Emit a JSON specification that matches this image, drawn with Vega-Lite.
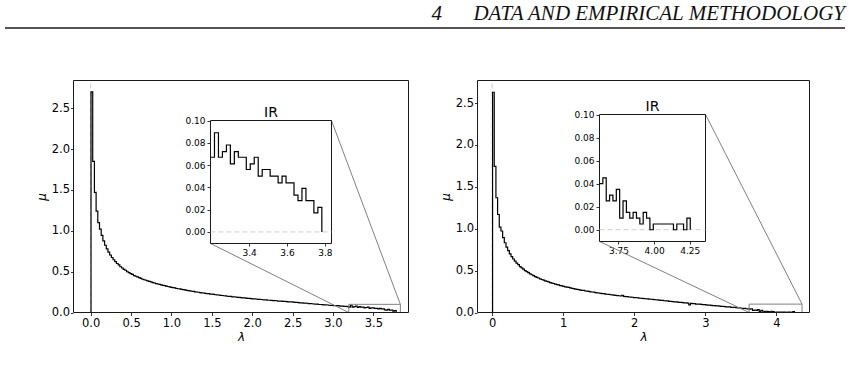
{
  "$schema": "https://vega.github.io/schema/vega-lite/v6.json",
  "width": 840,
  "height": 340,
  "autosize": {"type": "none"},
  "padding": {"left": 5, "top": 28, "right": 4, "bottom": 0},
  "background": "white",
  "config": {
    "view": {"stroke": null},
    "font": "DejaVu Sans",
    "axis": {
      "grid": false,
      "domain": false,
      "ticks": true,
      "tickColor": "black",
      "tickSize": 3.5,
      "tickWidth": 0.8,
      "labelColor": "black",
      "labelFont": "DejaVu Sans",
      "labelFontSize": 11.5,
      "labelPadding": 2,
      "labelFlush": false,
      "labelOverlap": false,
      "titleFont": "DejaVu Sans",
      "titleFontSize": 12,
      "titleFontStyle": "italic",
      "titleFontWeight": "normal",
      "titleColor": "black",
      "titlePadding": 3
    }
  },
  "datasets": {
    "left": [
      {"lambda": 0.004, "mu": 0},
      {"lambda": 0.004, "mu": 2.70},
      {"lambda": 0.025, "mu": 1.85},
      {"lambda": 0.046, "mu": 1.47},
      {"lambda": 0.067, "mu": 1.24},
      {"lambda": 0.088, "mu": 1.10},
      {"lambda": 0.109, "mu": 1.02},
      {"lambda": 0.130, "mu": 0.944},
      {"lambda": 0.151, "mu": 0.878},
      {"lambda": 0.172, "mu": 0.823},
      {"lambda": 0.193, "mu": 0.778},
      {"lambda": 0.214, "mu": 0.738},
      {"lambda": 0.235, "mu": 0.704},
      {"lambda": 0.256, "mu": 0.673},
      {"lambda": 0.277, "mu": 0.646},
      {"lambda": 0.298, "mu": 0.622},
      {"lambda": 0.319, "mu": 0.600},
      {"lambda": 0.340, "mu": 0.583},
      {"lambda": 0.361, "mu": 0.560},
      {"lambda": 0.382, "mu": 0.545},
      {"lambda": 0.403, "mu": 0.529},
      {"lambda": 0.424, "mu": 0.517},
      {"lambda": 0.445, "mu": 0.499},
      {"lambda": 0.466, "mu": 0.488},
      {"lambda": 0.487, "mu": 0.476},
      {"lambda": 0.508, "mu": 0.467},
      {"lambda": 0.529, "mu": 0.452},
      {"lambda": 0.550, "mu": 0.444},
      {"lambda": 0.571, "mu": 0.435},
      {"lambda": 0.592, "mu": 0.426},
      {"lambda": 0.613, "mu": 0.418},
      {"lambda": 0.634, "mu": 0.407},
      {"lambda": 0.655, "mu": 0.401},
      {"lambda": 0.676, "mu": 0.395},
      {"lambda": 0.697, "mu": 0.386},
      {"lambda": 0.718, "mu": 0.380},
      {"lambda": 0.739, "mu": 0.374},
      {"lambda": 0.760, "mu": 0.366},
      {"lambda": 0.781, "mu": 0.361},
      {"lambda": 0.802, "mu": 0.353},
      {"lambda": 0.823, "mu": 0.349},
      {"lambda": 0.844, "mu": 0.344},
      {"lambda": 0.865, "mu": 0.337},
      {"lambda": 0.886, "mu": 0.333},
      {"lambda": 0.907, "mu": 0.329},
      {"lambda": 0.928, "mu": 0.322},
      {"lambda": 0.949, "mu": 0.318},
      {"lambda": 0.970, "mu": 0.314},
      {"lambda": 0.991, "mu": 0.308},
      {"lambda": 1.012, "mu": 0.304},
      {"lambda": 1.033, "mu": 0.301},
      {"lambda": 1.054, "mu": 0.294},
      {"lambda": 1.075, "mu": 0.291},
      {"lambda": 1.096, "mu": 0.288},
      {"lambda": 1.117, "mu": 0.282},
      {"lambda": 1.138, "mu": 0.279},
      {"lambda": 1.159, "mu": 0.276},
      {"lambda": 1.180, "mu": 0.270},
      {"lambda": 1.201, "mu": 0.269},
      {"lambda": 1.222, "mu": 0.264},
      {"lambda": 1.243, "mu": 0.260},
      {"lambda": 1.264, "mu": 0.258},
      {"lambda": 1.285, "mu": 0.253},
      {"lambda": 1.306, "mu": 0.251},
      {"lambda": 1.327, "mu": 0.248},
      {"lambda": 1.348, "mu": 0.243},
      {"lambda": 1.369, "mu": 0.241},
      {"lambda": 1.390, "mu": 0.239},
      {"lambda": 1.411, "mu": 0.234},
      {"lambda": 1.432, "mu": 0.232},
      {"lambda": 1.453, "mu": 0.230},
      {"lambda": 1.474, "mu": 0.225},
      {"lambda": 1.495, "mu": 0.224},
      {"lambda": 1.516, "mu": 0.222},
      {"lambda": 1.537, "mu": 0.217},
      {"lambda": 1.558, "mu": 0.215},
      {"lambda": 1.579, "mu": 0.214},
      {"lambda": 1.600, "mu": 0.209},
      {"lambda": 1.621, "mu": 0.208},
      {"lambda": 1.642, "mu": 0.205},
      {"lambda": 1.663, "mu": 0.204},
      {"lambda": 1.684, "mu": 0.199},
      {"lambda": 1.705, "mu": 0.198},
      {"lambda": 1.726, "mu": 0.197},
      {"lambda": 1.747, "mu": 0.192},
      {"lambda": 1.768, "mu": 0.191},
      {"lambda": 1.789, "mu": 0.190},
      {"lambda": 1.810, "mu": 0.185},
      {"lambda": 1.831, "mu": 0.184},
      {"lambda": 1.852, "mu": 0.183},
      {"lambda": 1.873, "mu": 0.179},
      {"lambda": 1.894, "mu": 0.178},
      {"lambda": 1.915, "mu": 0.177},
      {"lambda": 1.936, "mu": 0.173},
      {"lambda": 1.957, "mu": 0.172},
      {"lambda": 1.978, "mu": 0.171},
      {"lambda": 1.999, "mu": 0.166},
      {"lambda": 2.020, "mu": 0.166},
      {"lambda": 2.041, "mu": 0.165},
      {"lambda": 2.062, "mu": 0.161},
      {"lambda": 2.083, "mu": 0.160},
      {"lambda": 2.104, "mu": 0.159},
      {"lambda": 2.125, "mu": 0.156},
      {"lambda": 2.146, "mu": 0.155},
      {"lambda": 2.167, "mu": 0.154},
      {"lambda": 2.188, "mu": 0.150},
      {"lambda": 2.209, "mu": 0.150},
      {"lambda": 2.230, "mu": 0.149},
      {"lambda": 2.251, "mu": 0.145},
      {"lambda": 2.272, "mu": 0.145},
      {"lambda": 2.293, "mu": 0.144},
      {"lambda": 2.314, "mu": 0.140},
      {"lambda": 2.335, "mu": 0.140},
      {"lambda": 2.356, "mu": 0.139},
      {"lambda": 2.377, "mu": 0.135},
      {"lambda": 2.398, "mu": 0.135},
      {"lambda": 2.419, "mu": 0.134},
      {"lambda": 2.440, "mu": 0.131},
      {"lambda": 2.461, "mu": 0.130},
      {"lambda": 2.482, "mu": 0.129},
      {"lambda": 2.503, "mu": 0.126},
      {"lambda": 2.524, "mu": 0.125},
      {"lambda": 2.545, "mu": 0.124},
      {"lambda": 2.566, "mu": 0.120},
      {"lambda": 2.587, "mu": 0.119},
      {"lambda": 2.608, "mu": 0.118},
      {"lambda": 2.629, "mu": 0.114},
      {"lambda": 2.650, "mu": 0.114},
      {"lambda": 2.671, "mu": 0.113},
      {"lambda": 2.692, "mu": 0.109},
      {"lambda": 2.713, "mu": 0.108},
      {"lambda": 2.734, "mu": 0.107},
      {"lambda": 2.755, "mu": 0.104},
      {"lambda": 2.776, "mu": 0.103},
      {"lambda": 2.797, "mu": 0.102},
      {"lambda": 2.818, "mu": 0.098},
      {"lambda": 2.839, "mu": 0.098},
      {"lambda": 2.860, "mu": 0.097},
      {"lambda": 2.881, "mu": 0.093},
      {"lambda": 2.902, "mu": 0.093},
      {"lambda": 2.923, "mu": 0.092},
      {"lambda": 2.944, "mu": 0.089},
      {"lambda": 2.965, "mu": 0.088},
      {"lambda": 2.986, "mu": 0.088},
      {"lambda": 3.007, "mu": 0.084},
      {"lambda": 3.028, "mu": 0.084},
      {"lambda": 3.049, "mu": 0.083},
      {"lambda": 3.070, "mu": 0.080},
      {"lambda": 3.091, "mu": 0.079},
      {"lambda": 3.112, "mu": 0.079},
      {"lambda": 3.133, "mu": 0.075},
      {"lambda": 3.154, "mu": 0.075},
      {"lambda": 3.175, "mu": 0.073},
      {"lambda": 3.196, "mu": 0.067},
      {"lambda": 3.217, "mu": 0.089},
      {"lambda": 3.238, "mu": 0.067},
      {"lambda": 3.259, "mu": 0.072},
      {"lambda": 3.280, "mu": 0.078},
      {"lambda": 3.301, "mu": 0.061},
      {"lambda": 3.322, "mu": 0.072},
      {"lambda": 3.343, "mu": 0.067},
      {"lambda": 3.364, "mu": 0.067},
      {"lambda": 3.385, "mu": 0.056},
      {"lambda": 3.406, "mu": 0.061},
      {"lambda": 3.427, "mu": 0.067},
      {"lambda": 3.448, "mu": 0.050},
      {"lambda": 3.469, "mu": 0.056},
      {"lambda": 3.490, "mu": 0.056},
      {"lambda": 3.511, "mu": 0.050},
      {"lambda": 3.532, "mu": 0.050},
      {"lambda": 3.553, "mu": 0.044},
      {"lambda": 3.574, "mu": 0.050},
      {"lambda": 3.595, "mu": 0.044},
      {"lambda": 3.616, "mu": 0.044},
      {"lambda": 3.637, "mu": 0.033},
      {"lambda": 3.658, "mu": 0.028},
      {"lambda": 3.679, "mu": 0.039},
      {"lambda": 3.700, "mu": 0.028},
      {"lambda": 3.721, "mu": 0.028},
      {"lambda": 3.742, "mu": 0.017},
      {"lambda": 3.763, "mu": 0.022},
      {"lambda": 3.784, "mu": 0.022},
      {"lambda": 3.784, "mu": 0}
    ],
    "right": [
      {"lambda": 0.006, "mu": 0},
      {"lambda": 0.006, "mu": 2.63},
      {"lambda": 0.0296, "mu": 1.745},
      {"lambda": 0.0532, "mu": 1.37},
      {"lambda": 0.0768, "mu": 1.17},
      {"lambda": 0.1004, "mu": 1.02},
      {"lambda": 0.124, "mu": 0.973},
      {"lambda": 0.1476, "mu": 0.895},
      {"lambda": 0.1712, "mu": 0.833},
      {"lambda": 0.1948, "mu": 0.781},
      {"lambda": 0.2184, "mu": 0.738},
      {"lambda": 0.242, "mu": 0.700},
      {"lambda": 0.2656, "mu": 0.668},
      {"lambda": 0.2892, "mu": 0.639},
      {"lambda": 0.3128, "mu": 0.613},
      {"lambda": 0.3364, "mu": 0.590},
      {"lambda": 0.36, "mu": 0.571},
      {"lambda": 0.3836, "mu": 0.548},
      {"lambda": 0.4072, "mu": 0.532},
      {"lambda": 0.4308, "mu": 0.518},
      {"lambda": 0.4544, "mu": 0.500},
      {"lambda": 0.478, "mu": 0.487},
      {"lambda": 0.5016, "mu": 0.475},
      {"lambda": 0.5252, "mu": 0.461},
      {"lambda": 0.5488, "mu": 0.451},
      {"lambda": 0.5724, "mu": 0.441},
      {"lambda": 0.596, "mu": 0.429},
      {"lambda": 0.6196, "mu": 0.420},
      {"lambda": 0.6432, "mu": 0.412},
      {"lambda": 0.6668, "mu": 0.401},
      {"lambda": 0.6904, "mu": 0.394},
      {"lambda": 0.714, "mu": 0.387},
      {"lambda": 0.7376, "mu": 0.377},
      {"lambda": 0.7612, "mu": 0.371},
      {"lambda": 0.7848, "mu": 0.365},
      {"lambda": 0.8084, "mu": 0.357},
      {"lambda": 0.832, "mu": 0.351},
      {"lambda": 0.8556, "mu": 0.346},
      {"lambda": 0.8792, "mu": 0.338},
      {"lambda": 0.9028, "mu": 0.333},
      {"lambda": 0.9264, "mu": 0.329},
      {"lambda": 0.95, "mu": 0.321},
      {"lambda": 0.9736, "mu": 0.317},
      {"lambda": 0.9972, "mu": 0.313},
      {"lambda": 1.0208, "mu": 0.306},
      {"lambda": 1.0444, "mu": 0.303},
      {"lambda": 1.068, "mu": 0.299},
      {"lambda": 1.0916, "mu": 0.293},
      {"lambda": 1.1152, "mu": 0.289},
      {"lambda": 1.1388, "mu": 0.286},
      {"lambda": 1.1624, "mu": 0.280},
      {"lambda": 1.186, "mu": 0.277},
      {"lambda": 1.2096, "mu": 0.274},
      {"lambda": 1.2332, "mu": 0.268},
      {"lambda": 1.2568, "mu": 0.265},
      {"lambda": 1.2804, "mu": 0.263},
      {"lambda": 1.304, "mu": 0.257},
      {"lambda": 1.3276, "mu": 0.255},
      {"lambda": 1.3512, "mu": 0.252},
      {"lambda": 1.3748, "mu": 0.247},
      {"lambda": 1.3984, "mu": 0.245},
      {"lambda": 1.422, "mu": 0.243},
      {"lambda": 1.4456, "mu": 0.237},
      {"lambda": 1.4692, "mu": 0.235},
      {"lambda": 1.4928, "mu": 0.233},
      {"lambda": 1.5164, "mu": 0.228},
      {"lambda": 1.54, "mu": 0.226},
      {"lambda": 1.5636, "mu": 0.225},
      {"lambda": 1.5872, "mu": 0.220},
      {"lambda": 1.6108, "mu": 0.218},
      {"lambda": 1.6344, "mu": 0.216},
      {"lambda": 1.658, "mu": 0.212},
      {"lambda": 1.6816, "mu": 0.210},
      {"lambda": 1.7052, "mu": 0.208},
      {"lambda": 1.7288, "mu": 0.204},
      {"lambda": 1.7524, "mu": 0.202},
      {"lambda": 1.776, "mu": 0.200},
      {"lambda": 1.7996, "mu": 0.197},
      {"lambda": 1.8232, "mu": 0.206},
      {"lambda": 1.8468, "mu": 0.193},
      {"lambda": 1.8704, "mu": 0.190},
      {"lambda": 1.894, "mu": 0.189},
      {"lambda": 1.9176, "mu": 0.185},
      {"lambda": 1.9412, "mu": 0.183},
      {"lambda": 1.9648, "mu": 0.182},
      {"lambda": 1.9884, "mu": 0.178},
      {"lambda": 2.012, "mu": 0.177},
      {"lambda": 2.0356, "mu": 0.176},
      {"lambda": 2.0592, "mu": 0.171},
      {"lambda": 2.0828, "mu": 0.170},
      {"lambda": 2.1064, "mu": 0.169},
      {"lambda": 2.13, "mu": 0.165},
      {"lambda": 2.1536, "mu": 0.164},
      {"lambda": 2.1772, "mu": 0.163},
      {"lambda": 2.2008, "mu": 0.159},
      {"lambda": 2.2244, "mu": 0.158},
      {"lambda": 2.248, "mu": 0.157},
      {"lambda": 2.2716, "mu": 0.153},
      {"lambda": 2.2952, "mu": 0.152},
      {"lambda": 2.3188, "mu": 0.151},
      {"lambda": 2.3424, "mu": 0.147},
      {"lambda": 2.366, "mu": 0.145},
      {"lambda": 2.3896, "mu": 0.144},
      {"lambda": 2.4132, "mu": 0.140},
      {"lambda": 2.4368, "mu": 0.139},
      {"lambda": 2.4604, "mu": 0.138},
      {"lambda": 2.484, "mu": 0.133},
      {"lambda": 2.5076, "mu": 0.132},
      {"lambda": 2.5312, "mu": 0.131},
      {"lambda": 2.5548, "mu": 0.127},
      {"lambda": 2.5784, "mu": 0.126},
      {"lambda": 2.602, "mu": 0.125},
      {"lambda": 2.6256, "mu": 0.121},
      {"lambda": 2.6492, "mu": 0.120},
      {"lambda": 2.6728, "mu": 0.119},
      {"lambda": 2.6964, "mu": 0.115},
      {"lambda": 2.72, "mu": 0.114},
      {"lambda": 2.7436, "mu": 0.113},
      {"lambda": 2.7672, "mu": 0.090},
      {"lambda": 2.7908, "mu": 0.108},
      {"lambda": 2.8144, "mu": 0.106},
      {"lambda": 2.838, "mu": 0.105},
      {"lambda": 2.8616, "mu": 0.101},
      {"lambda": 2.8852, "mu": 0.100},
      {"lambda": 2.9088, "mu": 0.099},
      {"lambda": 2.9324, "mu": 0.096},
      {"lambda": 2.956, "mu": 0.095},
      {"lambda": 2.9796, "mu": 0.094},
      {"lambda": 3.0032, "mu": 0.090},
      {"lambda": 3.0268, "mu": 0.089},
      {"lambda": 3.0504, "mu": 0.088},
      {"lambda": 3.074, "mu": 0.084},
      {"lambda": 3.0976, "mu": 0.083},
      {"lambda": 3.1212, "mu": 0.082},
      {"lambda": 3.1448, "mu": 0.079},
      {"lambda": 3.1684, "mu": 0.078},
      {"lambda": 3.192, "mu": 0.077},
      {"lambda": 3.2156, "mu": 0.073},
      {"lambda": 3.2392, "mu": 0.072},
      {"lambda": 3.2628, "mu": 0.071},
      {"lambda": 3.2864, "mu": 0.068},
      {"lambda": 3.31, "mu": 0.067},
      {"lambda": 3.3336, "mu": 0.066},
      {"lambda": 3.3572, "mu": 0.062},
      {"lambda": 3.3808, "mu": 0.062},
      {"lambda": 3.4044, "mu": 0.061},
      {"lambda": 3.428, "mu": 0.057},
      {"lambda": 3.4516, "mu": 0.056},
      {"lambda": 3.4752, "mu": 0.055},
      {"lambda": 3.4988, "mu": 0.051},
      {"lambda": 3.5224, "mu": 0.050},
      {"lambda": 3.546, "mu": 0.049},
      {"lambda": 3.5696, "mu": 0.045},
      {"lambda": 3.5932, "mu": 0.044},
      {"lambda": 3.6168, "mu": 0.040},
      {"lambda": 3.6404, "mu": 0.045},
      {"lambda": 3.664, "mu": 0.025},
      {"lambda": 3.6876, "mu": 0.030},
      {"lambda": 3.7112, "mu": 0.025},
      {"lambda": 3.7348, "mu": 0.035},
      {"lambda": 3.7584, "mu": 0.010},
      {"lambda": 3.782, "mu": 0.025},
      {"lambda": 3.8056, "mu": 0.015},
      {"lambda": 3.8292, "mu": 0.010},
      {"lambda": 3.8528, "mu": 0.015},
      {"lambda": 3.8764, "mu": 0.010},
      {"lambda": 3.9, "mu": 0.005},
      {"lambda": 3.9236, "mu": 0.015},
      {"lambda": 3.9472, "mu": 0.010},
      {"lambda": 3.9708, "mu": 0.000},
      {"lambda": 3.9944, "mu": 0.005},
      {"lambda": 4.018, "mu": 0.005},
      {"lambda": 4.0416, "mu": 0.005},
      {"lambda": 4.0652, "mu": 0.005},
      {"lambda": 4.0888, "mu": 0.005},
      {"lambda": 4.1124, "mu": 0.005},
      {"lambda": 4.136, "mu": 0.000},
      {"lambda": 4.1596, "mu": 0.005},
      {"lambda": 4.1832, "mu": 0.005},
      {"lambda": 4.2068, "mu": 0.000},
      {"lambda": 4.2304, "mu": 0.010},
      {"lambda": 4.254, "mu": 0.010},
      {"lambda": 4.254, "mu": 0}
    ]
  },
  "layer": [
    {
      "data": {"values": [{"heading": "4\u00a0\u00a0\u00a0\u00a0\u00a0\u00a0DATA AND EMPIRICAL METHODOLOGY"}]},
      "layer": [
        {
          "mark": {"type": "rule", "color": "#1a1a1a", "strokeWidth": 1.5},
          "encoding": {"y": {"value": 0}}
        },
        {
          "mark": {"type": "text", "align": "right", "baseline": "alphabetic", "dy": -8, "font": "Liberation Serif", "fontStyle": "italic", "fontSize": 21, "color": "#111111"},
          "encoding": {"x": {"value": "width"}, "y": {"value": 0}, "text": {"field": "heading"}}
        }
      ]
    },
    {
      "encoding": {
        "x": {
          "field": "lambda", "type": "quantitative",
          "scale": {"domain": [-0.213, 3.936], "range": [68.5, 403.5], "nice": false, "zero": false},
          "axis": {"orient": "bottom", "offset": -56, "values": [0, 0.5, 1, 1.5, 2, 2.5, 3, 3.5], "format": ".1f", "title": "λ", "labelPadding": 1.5}
        },
        "y": {
          "field": "mu", "type": "quantitative",
          "scale": {"domain": [0, 2.84], "range": [284.5, 52.5], "nice": false, "zero": false},
          "axis": {"orient": "left", "offset": -68, "values": [0, 0.5, 1, 1.5, 2, 2.5], "format": ".1f", "title": "μ", "tickSize": 2.5, "labelPadding": 1}
        }
      },
      "layer": [
        {
          "data": {"values": [{"lambda": 0, "mu": 0, "mu2": 2.84}]},
          "mark": {"type": "rule", "color": "#cccccc", "strokeWidth": 1, "strokeDash": [5, 3]},
          "encoding": {"y2": {"field": "mu2"}}
        },
        {
          "data": {"name": "left"},
          "mark": {"type": "line", "interpolate": "step-after", "color": "black", "strokeWidth": 1.2}
        },
        {
          "data": {"values": [{"lambda": 3.196, "lambda2": 3.835, "mu": 0, "mu2": 0.1}]},
          "mark": {"type": "rect", "filled": false, "color": "#808080", "strokeWidth": 1},
          "encoding": {"x2": {"field": "lambda2"}, "y2": {"field": "mu2"}}
        },
        {
          "data": {"values": [
            {"lambda": 2.982, "mu": 2.35, "lambda2": 3.835, "mu2": 0.1},
            {"lambda": 1.484, "mu": 0.845, "lambda2": 3.196, "mu2": 0}
          ]},
          "mark": {"type": "rule", "color": "#808080", "strokeWidth": 1},
          "encoding": {"x2": {"field": "lambda2"}, "y2": {"field": "mu2"}}
        },
        {
          "data": {"values": [{"lambda": -0.213, "lambda2": 3.936, "mu": 0, "mu2": 2.84}]},
          "mark": {"type": "rect", "filled": false, "color": "#1a1a1a", "strokeWidth": 1},
          "encoding": {"x2": {"field": "lambda2"}, "y2": {"field": "mu2"}}
        }
      ]
    },
    {
      "encoding": {
        "x": {
          "field": "lambda", "type": "quantitative",
          "scale": {"domain": [3.196, 3.835], "range": [205.5, 326.5], "nice": false, "zero": false},
          "axis": {"orient": "bottom", "offset": -125, "values": [3.4, 3.6, 3.8], "format": ".1f", "title": null, "labelFontSize": 9, "tickSize": 3}
        },
        "y": {
          "field": "mu", "type": "quantitative",
          "scale": {"domain": [-0.0104, 0.1], "range": [215.5, 92.5], "nice": false, "zero": false},
          "axis": {"orient": "left", "offset": -205, "values": [0, 0.02, 0.04, 0.06, 0.08, 0.1], "format": ".2f", "title": null, "labelFontSize": 9, "tickSize": 3}
        }
      },
      "layer": [
        {
          "data": {"values": [{"lambda": 3.196, "lambda2": 3.835, "mu": -0.0104, "mu2": 0.1}]},
          "mark": {"type": "rect", "fill": "white", "stroke": "#1a1a1a", "strokeWidth": 1},
          "encoding": {"x2": {"field": "lambda2"}, "y2": {"field": "mu2"}}
        },
        {
          "data": {"values": [{"lambda": 3.196, "lambda2": 3.835, "mu": 0}]},
          "mark": {"type": "rule", "color": "#cccccc", "strokeWidth": 1, "strokeDash": [5, 3]},
          "encoding": {"x2": {"field": "lambda2"}}
        },
        {
          "data": {"name": "left"},
          "transform": [{"filter": {"field": "lambda", "gte": 3.196}}],
          "mark": {"type": "line", "interpolate": "step-after", "color": "black", "strokeWidth": 1.2}
        },
        {
          "data": {"values": [{"lambda": 3.5155, "mu": 0.1, "panel": "IR"}]},
          "mark": {"type": "text", "baseline": "alphabetic", "align": "center", "dy": -4, "fontSize": 14, "font": "DejaVu Sans", "color": "black"},
          "encoding": {"text": {"field": "panel"}}
        }
      ]
    },
    {
      "encoding": {
        "x": {
          "field": "lambda", "type": "quantitative",
          "scale": {"domain": [-0.206, 4.466], "range": [472.5, 804.5], "nice": false, "zero": false},
          "axis": {"orient": "bottom", "offset": -56, "values": [0, 1, 2, 3, 4], "format": "d", "title": "λ", "labelPadding": 1.5}
        },
        "y": {
          "field": "mu", "type": "quantitative",
          "scale": {"domain": [0, 2.77], "range": [284.5, 52.5], "nice": false, "zero": false},
          "axis": {"orient": "left", "offset": -472, "values": [0, 0.5, 1, 1.5, 2, 2.5], "format": ".1f", "title": "μ", "tickSize": 2.5, "labelPadding": 1}
        }
      },
      "layer": [
        {
          "data": {"values": [{"lambda": 0, "mu": 0, "mu2": 2.77}]},
          "mark": {"type": "rule", "color": "#cccccc", "strokeWidth": 1, "strokeDash": [5, 3]},
          "encoding": {"y2": {"field": "mu2"}}
        },
        {
          "data": {"name": "right"},
          "mark": {"type": "line", "interpolate": "step-after", "color": "black", "strokeWidth": 1.2}
        },
        {
          "data": {"values": [{"lambda": 3.6168, "lambda2": 4.361, "mu": 0, "mu2": 0.1}]},
          "mark": {"type": "rect", "filled": false, "color": "#808080", "strokeWidth": 1},
          "encoding": {"x2": {"field": "lambda2"}, "y2": {"field": "mu2"}}
        },
        {
          "data": {"values": [
            {"lambda": 3.003, "mu": 2.364, "lambda2": 4.361, "mu2": 0.1},
            {"lambda": 1.511, "mu": 0.848, "lambda2": 3.6168, "mu2": 0}
          ]},
          "mark": {"type": "rule", "color": "#808080", "strokeWidth": 1},
          "encoding": {"x2": {"field": "lambda2"}, "y2": {"field": "mu2"}}
        },
        {
          "data": {"values": [{"lambda": -0.206, "lambda2": 4.466, "mu": 0, "mu2": 2.77}]},
          "mark": {"type": "rect", "filled": false, "color": "#1a1a1a", "strokeWidth": 1},
          "encoding": {"x2": {"field": "lambda2"}, "y2": {"field": "mu2"}}
        }
      ]
    },
    {
      "encoding": {
        "x": {
          "field": "lambda", "type": "quantitative",
          "scale": {"domain": [3.6168, 4.361], "range": [594.5, 700.5], "nice": false, "zero": false},
          "axis": {"orient": "bottom", "offset": -127, "values": [3.75, 4, 4.25], "format": ".2f", "title": null, "labelFontSize": 9, "tickSize": 3}
        },
        "y": {
          "field": "mu", "type": "quantitative",
          "scale": {"domain": [-0.0102, 0.1], "range": [213.5, 86.5], "nice": false, "zero": false},
          "axis": {"orient": "left", "offset": -594, "values": [0, 0.02, 0.04, 0.06, 0.08, 0.1], "format": ".2f", "title": null, "labelFontSize": 9, "tickSize": 3}
        }
      },
      "layer": [
        {
          "data": {"values": [{"lambda": 3.6168, "lambda2": 4.361, "mu": -0.0102, "mu2": 0.1}]},
          "mark": {"type": "rect", "fill": "white", "stroke": "#1a1a1a", "strokeWidth": 1},
          "encoding": {"x2": {"field": "lambda2"}, "y2": {"field": "mu2"}}
        },
        {
          "data": {"values": [{"lambda": 3.6168, "lambda2": 4.361, "mu": 0}]},
          "mark": {"type": "rule", "color": "#cccccc", "strokeWidth": 1, "strokeDash": [5, 3]},
          "encoding": {"x2": {"field": "lambda2"}}
        },
        {
          "data": {"name": "right"},
          "transform": [{"filter": {"field": "lambda", "gte": 3.6168}}],
          "mark": {"type": "line", "interpolate": "step-after", "color": "black", "strokeWidth": 1.2}
        },
        {
          "data": {"values": [{"lambda": 3.9889, "mu": 0.1, "panel": "IR"}]},
          "mark": {"type": "text", "baseline": "alphabetic", "align": "center", "dy": -4, "fontSize": 14, "font": "DejaVu Sans", "color": "black"},
          "encoding": {"text": {"field": "panel"}}
        }
      ]
    }
  ],
  "resolve": {
    "scale": {"x": "independent", "y": "independent"},
    "axis": {"x": "independent", "y": "independent"}
  }
}
